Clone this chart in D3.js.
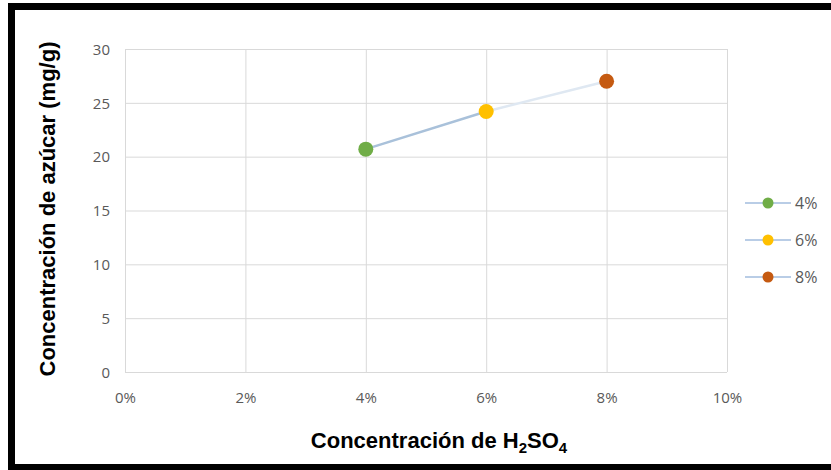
<!DOCTYPE html>
<html><head><meta charset="utf-8">
<script src="https://cdn.jsdelivr.net/npm/d3@7/dist/d3.min.js"></script>
<style>
html,body{margin:0;padding:0;background:#fff;}
svg{display:block;}
</style></head>
<body>
<svg id="chart" width="831" height="470"></svg>
<script>
const seriesNames = ["4%", "6%", "8%"];
const xValues = [0.04, 0.06, 0.08];
const yValues = [20.7, 24.2, 27.0];
const markerColors = ["#70ad47", "#ffc000", "#c55a11"];
const xTicks = [0, 0.02, 0.04, 0.06, 0.08, 0.10];
const yTicks = [0, 5, 10, 15, 20, 25, 30];

const svg = d3.select("#chart");
const m = {left:125, right:727, top:49, bottom:372};

const x = d3.scaleLinear().domain([0, 0.10]).range([m.left, m.right]);
const y = d3.scaleLinear().domain([0, 30]).range([m.bottom, m.top]);

// frame
svg.append("rect").attr("x",11.5).attr("y",6.5).attr("width",900).attr("height",461)
  .attr("fill","#fff").attr("stroke","#000").attr("stroke-width",7);

const tickFont = "'Open Sans', sans-serif";

// grid
const gx = svg.append("g").attr("transform",`translate(0,${m.bottom})`)
  .call(d3.axisBottom(x).tickValues(xTicks).tickSize(-(m.bottom-m.top)).tickFormat(d3.format(".0%")));
const gy = svg.append("g").attr("transform",`translate(${m.left},0)`)
  .call(d3.axisLeft(y).tickValues(yTicks).tickSize(-(m.right-m.left)).tickFormat(d3.format("d")));
[gx, gy].forEach(g => {
  g.select(".domain").remove();
  g.selectAll(".tick line").attr("stroke","#d9d9d9").attr("stroke-width",1);
  g.selectAll(".tick text").attr("fill","#595959").style("font-family",tickFont).style("font-size","15px");
});
gx.selectAll(".tick text").attr("dy","0").attr("y",31);
gy.selectAll(".tick text").attr("x",-15).attr("dy","0.35em");

// line segments
const segColors = ["#a9c1da", "#dfe8f2"];
for (let i = 0; i < xValues.length - 1; i++) {
  svg.append("line")
    .attr("x1", x(xValues[i])).attr("y1", y(yValues[i]))
    .attr("x2", x(xValues[i+1])).attr("y2", y(yValues[i+1]))
    .attr("stroke", segColors[i]).attr("stroke-width", 2.5);
}
// markers
svg.selectAll("circle.pt").data(xValues).enter().append("circle")
  .attr("class","pt")
  .attr("cx", d => x(d)).attr("cy", (d,i) => y(yValues[i]))
  .attr("r", 7.5).attr("fill", (d,i) => markerColors[i]);

// legend
const legY = [203, 240, 277];
seriesNames.forEach((name, i) => {
  const g = svg.append("g").attr("transform", `translate(0,${legY[i]})`);
  g.append("line").attr("x1",745).attr("x2",791).attr("y1",0).attr("y2",0)
    .attr("stroke","#b9cde6").attr("stroke-width",2);
  g.append("circle").attr("cx",768).attr("cy",0).attr("r",5.5).attr("fill",markerColors[i]);
  g.append("text").attr("x",795).attr("y",0).attr("dy","0.36em")
    .attr("fill","#595959").style("font-family",tickFont).style("font-size","16px").text(name);
});

// axis titles
const titleFont = "'Liberation Sans', Arial, sans-serif";
const xt = svg.append("text").attr("x", 439).attr("y", 448).attr("text-anchor","middle")
  .style("font-family",titleFont).style("font-weight","bold").style("font-size","22px").attr("fill","#000");
xt.append("tspan").text("Concentración de H");
xt.append("tspan").attr("dy", 5).style("font-size","15px").text("2");
xt.append("tspan").attr("dy", -5).text("SO");
xt.append("tspan").attr("dy", 5).style("font-size","15px").text("4");

svg.append("text").attr("transform","translate(55,209) rotate(-90)").attr("text-anchor","middle")
  .style("font-family",titleFont).style("font-weight","bold").style("font-size","22px").attr("fill","#000")
  .text("Concentración de azúcar (mg/g)");
</script>
</body></html>
